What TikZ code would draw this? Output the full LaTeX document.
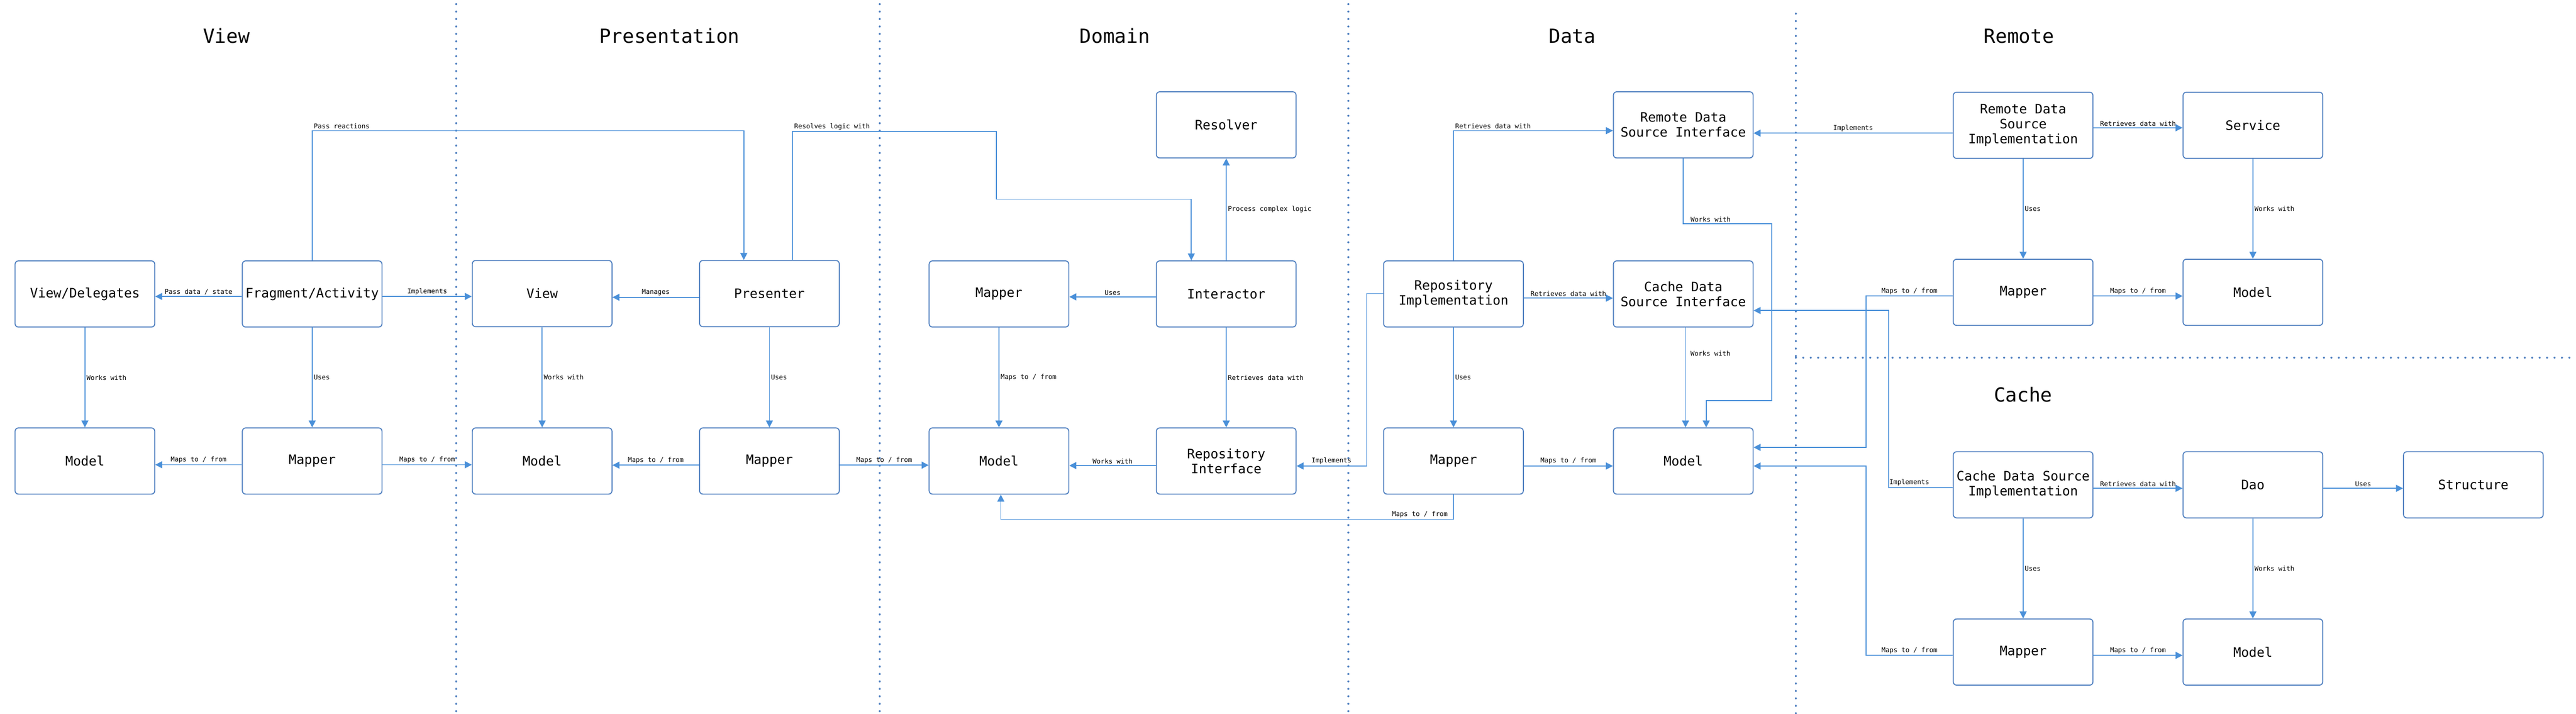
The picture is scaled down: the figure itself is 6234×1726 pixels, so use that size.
\documentclass[tikz,border=0pt]{standalone}
\usepackage{fontspec}
\newfontfamily\diagfont{DejaVu Sans Mono}
\usetikzlibrary{arrows.meta}
\definecolor{boxblue}{RGB}{80,128,192}
\definecolor{lineblue}{RGB}{74,144,217}

\begin{document}
\begin{tikzpicture}[x=1pt,y=-1pt,
    box/.style={draw=boxblue,line width=2.4pt,rounded corners=8pt,fill=white,
        minimum width=338pt,minimum height=160pt,inner sep=0pt,align=center,
        font=\diagfont\fontsize{31.5}{36}\selectfont},
    conn/.style={draw=lineblue,line width=2.2pt,-{Triangle[length=17pt,width=17pt]}},
    lbl/.style={font=\diagfont\fontsize{16}{19}\selectfont,inner sep=3pt},
    heading/.style={anchor=base,font=\diagfont\fontsize{47}{56}\selectfont},
    divider/.style={draw=boxblue,line width=5pt,line cap=round,dash pattern=on 0pt off 18pt}]
    \useasboundingbox (0,0) rectangle (6234,1726);

    % layer borders
    \draw[divider] (1104,10) -- (1104,1726);
    \draw[divider] (2129,10) -- (2129,1726);
    \draw[divider] (3263,10) -- (3263,1726);
    \draw[divider] (4346,33) -- (4346,1726);
    \draw[divider] (4346,865) -- (6234,865);

    \node[heading] (tview) at (548,104) {View};
    \node[heading] (tpres) at (1620,104) {Presentation};
    \node[heading] (tdomain) at (2698,104) {Domain};
    \node[heading] (tdata) at (3805,104) {Data};
    \node[heading] (tremote) at (4886,104) {Remote};
    \node[heading] (tcache) at (4896,972) {Cache};

    % view
    \node[box] (delegates) at (205.5,711) {View/Delegates};
    \node[box] (fragment) at (755.5,711) {Fragment/Activity};
    \node[box] (vmodel) at (205.5,1115) {Model};
    \node[box] (vmapper) at (755.5,1115) {Mapper};
    % presentation
    \node[box] (view) at (1312,710) {View};
    \node[box] (presenter) at (1862,710) {Presenter};
    \node[box] (pmodel) at (1312,1115) {Model};
    \node[box] (pmapper) at (1862,1115) {Mapper};
    % domain
    \node[box] (resolver) at (2967.5,302) {Resolver};
    \node[box] (dmapper) at (2417.5,711) {Mapper};
    \node[box] (interactor) at (2967.5,711) {Interactor};
    \node[box] (dmodel) at (2417.5,1115) {Model};
    \node[box] (repoif) at (2967.5,1115) {Repository\\Interface};
    % data
    \node[box] (rdsi) at (4073.5,302) {Remote Data\\Source Interface};
    \node[box] (repoimpl) at (3517.5,711) {Repository\\Implementation};
    \node[box] (cdsi) at (4073.5,711) {Cache Data\\Source Interface};
    \node[box] (datamapper) at (3517.5,1115) {Mapper};
    \node[box] (datamodel) at (4073.5,1115) {Model};
    % remote
    \node[box] (rimpl) at (4896,303) {Remote Data\\Source\\Implementation};
    \node[box] (service) at (5452,303) {Service};
    \node[box] (rmapper) at (4896,707) {Mapper};
    \node[box] (rmodel) at (5452,707) {Model};
    % cache
    \node[box] (cimpl) at (4896,1172.5) {Cache Data Source\\Implementation};
    \node[box] (dao) at (5452,1172.5) {Dao};
    \node[box] (structure) at (5985.5,1172.5) {Structure};
    \node[box] (cmapper) at (4896,1577) {Mapper};
    \node[box] (cmodel) at (5452,1577) {Model};

    \draw[conn] (fragment.west |- 0,717) -- node[lbl,above]{Pass data / state} (delegates.east |- 0,717);
    \draw[conn] (fragment.east |- 0,717) -- node[lbl,above]{Implements} (view.west |- 0,717);
    \draw[conn] (delegates) -- node[lbl,right]{Works with} (vmodel);
    \draw[conn] (fragment) -- node[lbl,right]{Uses} (vmapper);
    \draw[conn] (vmapper.west |- 0,1124) -- node[lbl,above]{Maps to / from} (vmodel.east |- 0,1124);
    \draw[conn] (vmapper.east |- 0,1124) -- node[lbl,above]{Maps to / from} (pmodel.west |- 0,1124);
    \draw[conn] (fragment.north) |- node[lbl,pos=0.5,above right]{Pass reactions} (1800,316) -- (1800,316 |- presenter.north);

    \draw[conn] (presenter.west |- 0,719) -- node[lbl,above]{Manages} (view.east |- 0,719);
    \draw[conn] (view) -- node[lbl,right]{Works with} (pmodel);
    \draw[conn] (presenter) -- node[lbl,right]{Uses} (pmapper);
    \draw[conn] (pmapper.west |- 0,1125) -- node[lbl,above]{Maps to / from} (pmodel.east |- 0,1125);
    \draw[conn] (pmapper.east |- 0,1125) -- node[lbl,above]{Maps to / from} (dmodel.west |- 0,1125);
    \draw[conn] (presenter.north -| 1918,0) |- node[lbl,pos=0.5,above right]{Resolves logic with} (2411,318)
        |- (2883,482) -- (2883,482 |- interactor.north);

    \draw[conn] (interactor) -- node[lbl,right]{Process complex logic} (resolver);
    \draw[conn] (interactor.west |- 0,718) -- node[lbl,above]{Uses} (dmapper.east |- 0,718);
    \draw[conn] (dmapper) -- node[lbl,right]{Maps to / from} (dmodel);
    \draw[conn] (interactor) -- node[lbl,right]{Retrieves data with} (repoif);
    \draw[conn] (repoif.west |- 0,1126) -- node[lbl,above]{Works with} (dmodel.east |- 0,1126);

    \draw[conn] (repoimpl.west |- 0,710) -| (3307,1127) -- node[lbl,above]{Implements} (repoif.east |- 0,1127);
    \draw[conn] (repoimpl.north) |- node[lbl,pos=0.5,above right]{Retrieves data with} (rdsi.west |- 0,316);
    \draw[conn] (repoimpl.east |- 0,721) -- node[lbl,above]{Retrieves data with} (cdsi.west |- 0,721);
    \draw[conn] (repoimpl) -- node[lbl,right]{Uses} (datamapper);
    \draw[conn] (datamapper.east |- 0,1127) -- node[lbl,above]{Maps to / from} (datamodel.west |- 0,1127);
    \draw[conn] (datamapper.south) |- node[lbl,pos=0.5,above left,xshift=-10pt]{Maps to / from} (2422,1256)
        -- (2422,1256 |- dmodel.south);
    \draw[conn] (rdsi.south) |- node[lbl,pos=0.5,above right,xshift=14pt]{Works with} (4288,541)
        |- (4129,969) -- (4129,969 |- datamodel.north);
    \draw[conn] (cdsi.south -| 4079,0) -- node[lbl,pos=0.26,right,xshift=8pt]{Works with} (datamodel.north -| 4079,0);

    \draw[conn] (rimpl.west |- 0,322) -- node[lbl,above]{Implements} (rdsi.east |- 0,322);
    \draw[conn] (rimpl.east |- 0,309) -- node[lbl,above]{Retrieves data with} (service.west |- 0,309);
    \draw[conn] (rimpl) -- node[lbl,right]{Uses} (rmapper);
    \draw[conn] (service) -- node[lbl,right]{Works with} (rmodel);
    \draw[conn] (rmapper.east |- 0,716) -- node[lbl,above]{Maps to / from} (rmodel.west |- 0,716);
    \draw[conn] (rmapper.west |- 0,716) -| node[lbl,pos=0.25,above]{Maps to / from} (4516,1082)
        -- (datamodel.east |- 0,1082);

    \draw[conn] (cimpl.west |- 0,1179) -| node[lbl,pos=0.34,above]{Implements} (4571,751) -- (cdsi.east |- 0,751);
    \draw[conn] (cimpl.east |- 0,1181) -- node[lbl,above]{Retrieves data with} (dao.west |- 0,1181);
    \draw[conn] (dao.east |- 0,1181) -- node[lbl,above]{Uses} (structure.west |- 0,1181);
    \draw[conn] (cimpl) -- node[lbl,right]{Uses} (cmapper);
    \draw[conn] (dao) -- node[lbl,right]{Works with} (cmodel);
    \draw[conn] (cmapper.east |- 0,1585) -- node[lbl,above]{Maps to / from} (cmodel.west |- 0,1585);
    \draw[conn] (cmapper.west |- 0,1585) -| node[lbl,pos=0.25,above]{Maps to / from} (4516,1127)
        -- (datamodel.east |- 0,1127);
\end{tikzpicture}
\end{document}
